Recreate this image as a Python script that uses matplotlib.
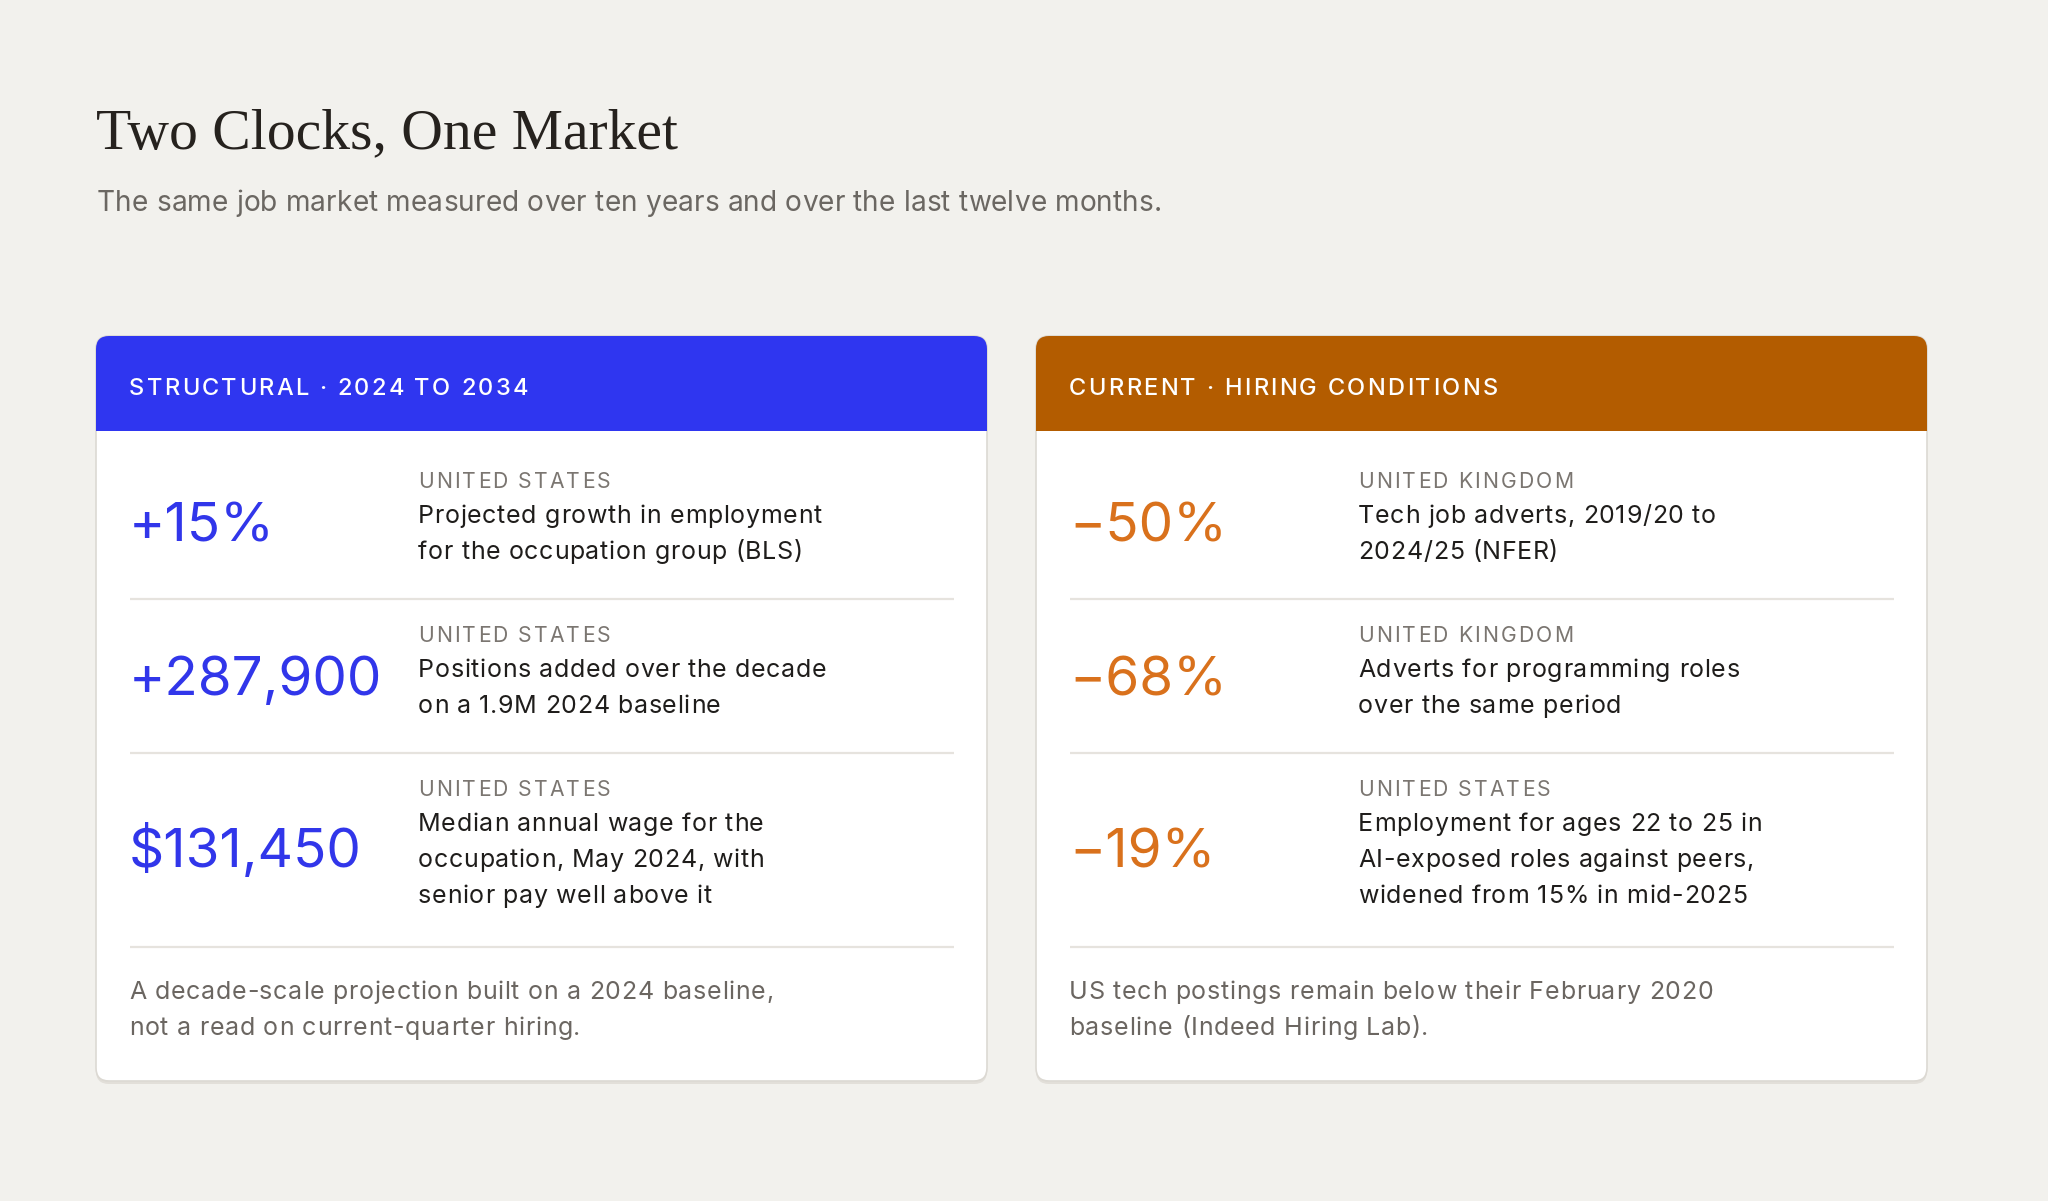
import matplotlib
matplotlib.use('Agg')
import matplotlib.pyplot as plt
from matplotlib.patches import FancyBboxPatch, Rectangle
from matplotlib.font_manager import FontProperties, findfont, get_font

# ---- content ----
title = "Two Clocks, One Market"
subtitle = "The same job market measured over ten years and over the last twelve months."

left_head = "STRUCTURAL · 2024 TO 2034"
left_values = ["+15%", "+287,900", "$131,450"]
left_regions = ["UNITED STATES", "UNITED STATES", "UNITED STATES"]
left_desc = [
    ["Projected growth in employment", "for the occupation group (BLS)"],
    ["Positions added over the decade", "on a 1.9M 2024 baseline"],
    ["Median annual wage for the", "occupation, May 2024, with", "senior pay well above it"],
]
left_note = ["A decade-scale projection built on a 2024 baseline,",
             "not a read on current-quarter hiring."]

right_head = "CURRENT · HIRING CONDITIONS"
right_values = ["\u221250%", "\u221268%", "\u221219%"]
right_regions = ["UNITED KINGDOM", "UNITED KINGDOM", "UNITED STATES"]
right_desc = [
    ["Tech job adverts, 2019/20 to", "2024/25 (NFER)"],
    ["Adverts for programming roles", "over the same period"],
    ["Employment for ages 22 to 25 in", "AI-exposed roles against peers,",
     "widened from 15% in mid-2025"],
]
right_note = ["US tech postings remain below their February 2020",
              "baseline (Indeed Hiring Lab)."]

# ---- style ----
BG = '#f2f1ed'
SANS = ['Inter', 'DejaVu Sans']
SERIF = ['Liberation Serif', 'DejaVu Serif']
BLUE_HEAD, BLUE_VAL = '#2f36f0', '#3136ea'
ORANGE_HEAD, ORANGE_VAL = '#b35c00', '#d9711c'
W, H = 2048, 1201

fig = plt.figure(figsize=(W / 100, H / 100), dpi=100, facecolor=BG)
ax = fig.add_axes([0, 0, 1, 1])
ax.set_xlim(0, W)
ax.set_ylim(H, 0)
ax.axis('off')


def spaced(x, y, s, size, track, color, weight='normal'):
    # draw text letter by letter to get tracking
    fp = FontProperties(family=SANS, size=size, weight=weight)
    font = get_font(findfont(fp))
    font.set_size(size, 100)
    for ch in s:
        ax.text(x, y, ch, fontproperties=fp, color=color, va='baseline', ha='left', zorder=5)
        g = font.load_char(ord(ch))
        x += g.linearHoriAdvance / 65536 + track


ax.text(96, 148, title, family=SERIF, size=41.5, color='#26221e', va='baseline')
spaced(97, 211, subtitle, 20.2, 0.12, '#6b6762')

CARD_TOP, HEAD_H, CARD_W = 336, 95, 891


def card(x0, head, head_col, val_col, values, regions, descs, note):
    x1 = x0 + CARD_W
    pad, col2 = 34, 323
    # layout rows
    y = CARD_TOP + HEAD_H + 14
    rows = []
    for reg, desc in zip(regions, descs):
        lab = y + 43
        lines = [lab + 35 + 36 * i for i in range(len(desc))]
        bottom = lines[-1] + 40 + (4 if len(desc) > 2 else 0)
        rows.append((lab, lines, bottom))
        y = bottom
    note_lines = [y + 52 + 36 * i for i in range(len(note))]
    card_bot = note_lines[-1] + 46

    shadow = FancyBboxPatch((x0, CARD_TOP + 3), CARD_W, card_bot - CARD_TOP,
                            boxstyle='round,pad=0,rounding_size=13',
                            fc='#e2dfd9', ec='none', zorder=0)
    ax.add_patch(shadow)
    body = FancyBboxPatch((x0, CARD_TOP), CARD_W, card_bot - CARD_TOP,
                          boxstyle='round,pad=0,rounding_size=13',
                          fc='white', ec='#dcd9d3', lw=1.2, zorder=1)
    ax.add_patch(body)
    hdr = Rectangle((x0 - 2, CARD_TOP - 2), CARD_W + 4, HEAD_H + 2, fc=head_col, ec='none', zorder=2)
    ax.add_patch(hdr)
    hdr.set_clip_path(body)

    spaced(x0 + pad - 1, CARD_TOP + 59, head, 17, 2.25, 'white', weight='medium')

    for val, reg, desc, (lab, lines, bottom) in zip(values, regions, descs, rows):
        ax.text(x0 + pad - 1, sum(lines) / len(lines), val, family=SANS, size=39.5,
                color=val_col, va='baseline', zorder=5)
        spaced(x0 + col2 - 1, lab, reg, 15.2, 2.2, '#7b7671')
        for ln, yy in zip(desc, lines):
            spaced(x0 + col2 - 1, yy, ln, 18, 0.65, '#1f1d1b')
        ax.plot([x0 + pad, x1 - 33], [bottom, bottom], color='#e6e3de', lw=1.6,
                solid_capstyle='butt', zorder=4)

    for ln, yy in zip(note, note_lines):
        spaced(x0 + pad - 1, yy, ln, 18, 0.7, '#6b6661')


card(96, left_head, BLUE_HEAD, BLUE_VAL, left_values, left_regions, left_desc, left_note)
card(1036, right_head, ORANGE_HEAD, ORANGE_VAL, right_values, right_regions, right_desc, right_note)

fig.savefig('out.png', dpi=100, facecolor=BG)
